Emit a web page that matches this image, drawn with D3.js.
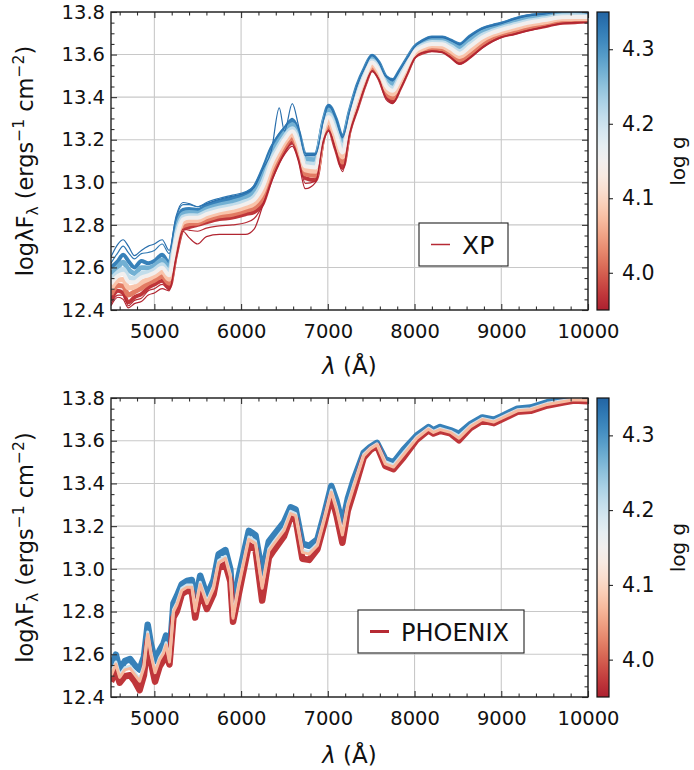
<!DOCTYPE html>
<html>
<head>
<meta charset="utf-8">
<script src="https://cdn.jsdelivr.net/npm/d3@7"></script>
<style>
    body { margin: 0; background: #fff; }
    text { font-family: "DejaVu Sans", sans-serif; fill: #111; }
</style>
</head>
<body>
<div id="chart"></div>
<script>

// wavelength grid of the XP spectra (top panel)
var wlXP = [4500, 4580, 4640, 4700, 4770, 4850, 4930, 5000, 5090, 5170,
    5250, 5330, 5400, 5500, 5600, 5750, 5900, 6050, 6150, 6250,
    6350, 6440, 6500, 6590, 6660, 6740, 6860, 6950, 7010, 7090,
    7170, 7250, 7340, 7430, 7510, 7590, 7670, 7750, 7830, 7920,
    8000, 8100, 8200, 8320, 8420, 8520, 8640, 8780, 8900, 9000,
    9150, 9300, 9500, 9700, 9850, 10000];

// log lambda*F_lambda of the XP spectra, one array per star
var xpSpike = [12.65, 12.71, 12.73, 12.70, 12.655, 12.68, 12.70, 12.71, 12.73, 12.68,
    12.84, 12.905, 12.90, 12.885, 12.90, 12.92, 12.935, 12.95, 12.975, 13.06,
    13.15, 13.35, 13.24, 13.37, 13.27, 13.125, 13.13, 13.29, 13.36, 13.30,
    13.21, 13.33, 13.455, 13.54, 13.595, 13.56, 13.495, 13.48, 13.525, 13.585,
    13.635, 13.665, 13.68, 13.68, 13.665, 13.648, 13.685, 13.72, 13.735, 13.745,
    13.765, 13.78, 13.79, 13.80, 13.80, 13.795];
var xpHigh = [12.62, 12.67, 12.70, 12.67, 12.64, 12.665, 12.67, 12.68, 12.71, 12.665,
    12.83, 12.895, 12.895, 12.885, 12.905, 12.925, 12.94, 12.955, 12.985, 13.07,
    13.17, 13.23, 13.26, 13.30, 13.25, 13.135, 13.135, 13.295, 13.365, 13.305,
    13.215, 13.335, 13.46, 13.545, 13.60, 13.565, 13.50, 13.485, 13.53, 13.59,
    13.64, 13.67, 13.685, 13.685, 13.67, 13.65, 13.69, 13.725, 13.74, 13.75,
    13.77, 13.785, 13.795, 13.805, 13.805, 13.80];
var xp432 = [12.60, 12.63, 12.66, 12.63, 12.60, 12.63, 12.62, 12.63, 12.66, 12.62,
    12.80, 12.87, 12.875, 12.87, 12.89, 12.91, 12.925, 12.945, 12.975, 13.06,
    13.16, 13.22, 13.25, 13.29, 13.24, 13.13, 13.13, 13.29, 13.36, 13.30,
    13.21, 13.33, 13.455, 13.54, 13.595, 13.56, 13.495, 13.48, 13.525, 13.585,
    13.635, 13.665, 13.68, 13.68, 13.665, 13.648, 13.685, 13.72, 13.735, 13.745,
    13.765, 13.78, 13.79, 13.80, 13.80, 13.795];
var xp427 = [12.569, 12.602, 12.624, 12.591, 12.572, 12.599, 12.597, 12.608, 12.635, 12.597,
    12.772, 12.852, 12.858, 12.855, 12.874, 12.893, 12.907, 12.926, 12.952, 13.028,
    13.132, 13.196, 13.23, 13.27, 13.218, 13.108, 13.106, 13.274, 13.338, 13.272,
    13.182, 13.312, 13.434, 13.524, 13.582, 13.546, 13.478, 13.46, 13.508, 13.572,
    13.626, 13.654, 13.668, 13.667, 13.65, 13.63, 13.666, 13.704, 13.722, 13.733,
    13.752, 13.767, 13.779, 13.79, 13.79, 13.787];
var xp421 = [12.541, 12.577, 12.592, 12.556, 12.547, 12.571, 12.576, 12.588, 12.613, 12.576,
    12.747, 12.836, 12.843, 12.842, 12.86, 12.878, 12.89, 12.909, 12.931, 12.999,
    13.107, 13.174, 13.212, 13.252, 13.198, 13.088, 13.084, 13.26, 13.318, 13.247,
    13.157, 13.296, 13.415, 13.51, 13.57, 13.533, 13.463, 13.442, 13.493, 13.56,
    13.618, 13.644, 13.657, 13.655, 13.637, 13.615, 13.649, 13.69, 13.71, 13.723,
    13.74, 13.756, 13.768, 13.781, 13.782, 13.78];
var xp415 = [12.523, 12.56, 12.57, 12.533, 12.53, 12.553, 12.563, 12.575, 12.599, 12.563,
    12.73, 12.825, 12.833, 12.833, 12.85, 12.868, 12.88, 12.898, 12.918, 12.98,
    13.09, 13.16, 13.20, 13.24, 13.185, 13.075, 13.07, 13.25, 13.305, 13.23,
    13.14, 13.285, 13.403, 13.50, 13.563, 13.525, 13.453, 13.43, 13.483, 13.553,
    13.613, 13.638, 13.65, 13.648, 13.628, 13.604, 13.638, 13.68, 13.703, 13.716,
    13.733, 13.749, 13.762, 13.775, 13.776, 13.776];
var xp408 = [12.499, 12.539, 12.543, 12.504, 12.509, 12.529, 12.545, 12.559, 12.58, 12.545,
    12.709, 12.812, 12.82, 12.821, 12.838, 12.856, 12.866, 12.883, 12.90, 12.956,
    13.069, 13.142, 13.185, 13.225, 13.169, 13.059, 13.052, 13.238, 13.289, 13.209,
    13.119, 13.272, 13.387, 13.488, 13.553, 13.515, 13.44, 13.415, 13.47, 13.543,
    13.606, 13.629, 13.641, 13.638, 13.616, 13.591, 13.623, 13.668, 13.693, 13.707,
    13.723, 13.739, 13.753, 13.768, 13.769, 13.77];
var xp402 = [12.473, 12.515, 12.512, 12.471, 12.485, 12.503, 12.526, 12.54, 12.559, 12.526,
    12.685, 12.796, 12.805, 12.809, 12.824, 12.842, 12.85, 12.867, 12.881, 12.929,
    13.045, 13.122, 13.168, 13.208, 13.15, 13.04, 13.032, 13.224, 13.27, 13.185,
    13.095, 13.256, 13.369, 13.474, 13.542, 13.503, 13.425, 13.398, 13.455, 13.532,
    13.598, 13.62, 13.631, 13.627, 13.604, 13.576, 13.607, 13.654, 13.682, 13.697,
    13.712, 13.728, 13.743, 13.759, 13.761, 13.763];
var xp397 = [12.445, 12.49, 12.48, 12.436, 12.46, 12.475, 12.505, 12.52, 12.537, 12.505,
    12.66, 12.78, 12.79, 12.80, 12.812, 12.827, 12.834, 12.85, 12.86, 12.90,
    13.02, 13.10, 13.15, 13.19, 13.13, 13.02, 13.01, 13.21, 13.25, 13.16,
    13.07, 13.24, 13.35, 13.46, 13.53, 13.49, 13.41, 13.38, 13.44, 13.52,
    13.59, 13.61, 13.62, 13.615, 13.59, 13.56, 13.59, 13.64, 13.67, 13.686,
    13.70, 13.717, 13.733, 13.75, 13.752, 13.756];
var xpRed2 = [12.43, 12.47, 12.47, 12.42, 12.445, 12.455, 12.49, 12.50, 12.52, 12.495,
    12.65, 12.78, 12.775, 12.77, 12.785, 12.795, 12.80, 12.81, 12.83, 12.895,
    13.01, 13.095, 13.14, 13.18, 13.115, 12.995, 13.005, 13.20, 13.245, 13.155,
    13.06, 13.23, 13.345, 13.455, 13.525, 13.485, 13.40, 13.375, 13.435, 13.515,
    13.585, 13.61, 13.618, 13.612, 13.588, 13.558, 13.588, 13.635, 13.665, 13.683,
    13.698, 13.714, 13.731, 13.748, 13.751, 13.753];
var xpLow = [12.42, 12.46, 12.45, 12.41, 12.43, 12.44, 12.47, 12.48, 12.50, 12.49,
    12.64, 12.77, 12.74, 12.71, 12.745, 12.755, 12.755, 12.755, 12.78, 12.89,
    13.00, 13.09, 13.13, 13.17, 13.10, 12.97, 13.00, 13.19, 13.24, 13.15,
    13.05, 13.22, 13.34, 13.45, 13.52, 13.48, 13.39, 13.37, 13.43, 13.51,
    13.58, 13.61, 13.615, 13.61, 13.585, 13.555, 13.585, 13.63, 13.66, 13.68,
    13.695, 13.71, 13.73, 13.745, 13.75, 13.75];

// wavelength grid of the PHOENIX spectra (bottom panel)
var wlPH = [4500, 4556, 4600, 4660, 4720, 4776, 4830, 4880, 4923, 4960,
    5008, 5060, 5104, 5135, 5174, 5220, 5260, 5316, 5375, 5432,
    5471, 5529, 5606, 5683, 5741, 5819, 5876, 5907, 5973, 6089,
    6166, 6243, 6320, 6378, 6494, 6571, 6629, 6707, 6784, 6880,
    6960, 7040, 7100, 7168, 7230, 7299, 7414, 7490, 7567, 7663,
    7758, 7873, 8026, 8160, 8218, 8295, 8415, 8512, 8646, 8781,
    8915, 9000, 9185, 9338, 9530, 9723, 9838, 10000];

var ph432 = [12.538, 12.598, 12.528, 12.568, 12.578, 12.548, 12.528, 12.588, 12.738, 12.648,
    12.568, 12.618, 12.648, 12.688, 12.588, 12.838, 12.873, 12.928, 12.943, 12.948,
    12.843, 12.968, 12.873, 12.948, 13.068, 13.088, 12.998, 12.798, 12.968, 13.178,
    13.158, 12.978, 13.128, 13.158, 13.218, 13.288, 13.278, 13.118, 13.108, 13.138,
    13.258, 13.388, 13.318, 13.208, 13.328, 13.418, 13.544, 13.571, 13.590, 13.513,
    13.498, 13.558, 13.625, 13.664, 13.649, 13.664, 13.649, 13.633, 13.678, 13.709,
    13.698, 13.714, 13.750, 13.755, 13.780, 13.792, 13.800, 13.800];
var ph420 = [12.509, 12.564, 12.502, 12.537, 12.544, 12.514, 12.484, 12.549, 12.704, 12.609,
    12.524, 12.584, 12.614, 12.654, 12.574, 12.809, 12.842, 12.909, 12.924, 12.924,
    12.812, 12.937, 12.847, 12.919, 13.039, 13.059, 12.974, 12.779, 12.929, 13.149,
    13.129, 12.919, 13.094, 13.127, 13.189, 13.269, 13.259, 13.087, 13.079, 13.119,
    13.239, 13.369, 13.289, 13.169, 13.304, 13.394, 13.536, 13.566, 13.586, 13.502,
    13.487, 13.544, 13.618, 13.659, 13.644, 13.658, 13.644, 13.622, 13.672, 13.704,
    13.693, 13.709, 13.745, 13.750, 13.775, 13.788, 13.796, 13.795];
var ph407 = [12.499, 12.554, 12.492, 12.527, 12.534, 12.504, 12.474, 12.539, 12.694, 12.599,
    12.514, 12.574, 12.604, 12.644, 12.564, 12.799, 12.832, 12.899, 12.914, 12.914,
    12.802, 12.927, 12.837, 12.909, 13.029, 13.049, 12.964, 12.769, 12.919, 13.139,
    13.119, 12.909, 13.084, 13.117, 13.179, 13.259, 13.249, 13.077, 13.069, 13.109,
    13.229, 13.359, 13.279, 13.159, 13.294, 13.384, 13.529, 13.561, 13.581, 13.492,
    13.477, 13.534, 13.611, 13.654, 13.639, 13.652, 13.639, 13.612, 13.666, 13.699,
    13.688, 13.704, 13.740, 13.745, 13.770, 13.784, 13.792, 13.790];
var ph397 = [12.472, 12.522, 12.467, 12.497, 12.502, 12.472, 12.432, 12.502, 12.662, 12.562,
    12.472, 12.542, 12.572, 12.612, 12.552, 12.772, 12.802, 12.882, 12.897, 12.892,
    12.772, 12.897, 12.812, 12.882, 13.002, 13.022, 12.942, 12.752, 12.882, 13.112,
    13.092, 12.852, 13.052, 13.087, 13.152, 13.242, 13.232, 13.047, 13.042, 13.092,
    13.212, 13.342, 13.252, 13.122, 13.272, 13.362, 13.521, 13.556, 13.576, 13.482,
    13.467, 13.522, 13.605, 13.649, 13.634, 13.646, 13.634, 13.602, 13.660, 13.694,
    13.682, 13.699, 13.735, 13.740, 13.765, 13.780, 13.788, 13.785];

// log g of each star
var xpLogg = [4.34, 4.33, 4.32, 4.27, 4.21, 4.15, 4.08, 4.02, 3.97, 3.96, 3.955];
var phLogg = [4.32, 4.20, 4.07, 3.97];

var xTicks = [5000, 6000, 7000, 8000, 9000, 10000];
var yTicks = [12.4, 12.6, 12.8, 13.0, 13.2, 13.4, 13.6, 13.8];
var cbTicks = [4.0, 4.1, 4.2, 4.3];

var plotLeft = 111, plotRight = 588;
var cbLeft = 597, cbWidth = 12;

var svg = d3.select("#chart").append("svg")
    .attr("width", 694)
    .attr("height", 770);

var color = d3.scaleSequential(function (t) { return d3.interpolateRdBu(0.1 + 0.8 * t); })
    .domain([3.95, 4.35]);

// colorbar gradient (shared by both panels)
var grad = svg.append("defs").append("linearGradient")
    .attr("id", "cbgrad")
    .attr("x1", 0).attr("y1", 1).attr("x2", 0).attr("y2", 0);
d3.range(0, 1.0001, 0.05).forEach(function (t) {
    grad.append("stop")
        .attr("offset", t)
        .attr("stop-color", color(3.95 + 0.4 * t));
});

var panels = [
    {
        id: "xp", top: 12, bottom: 310, wl: wlXP, curve: d3.curveMonotoneX,
        // draw order: band from outside in, outliers last
        series: [
            {flux: xp432, logg: xpLogg[2], w: 4},
            {flux: xp397, logg: xpLogg[8], w: 4},
            {flux: xp427, logg: xpLogg[3], w: 5},
            {flux: xp402, logg: xpLogg[7], w: 5},
            {flux: xp421, logg: xpLogg[4], w: 5},
            {flux: xp408, logg: xpLogg[6], w: 5},
            {flux: xp415, logg: xpLogg[5], w: 4},
            {flux: xpSpike, logg: xpLogg[0], w: 1.2},
            {flux: xpHigh, logg: xpLogg[1], w: 1.2},
            {flux: xpRed2, logg: xpLogg[9], w: 1.2},
            {flux: xpLow, logg: xpLogg[10], w: 1.2}
        ],
        legend: "XP", legendBox: [419, 223, 89, 43], legendLineW: 1.5, legendFont: 25,
        labelY: 374
    },
    {
        id: "ph", top: 398, bottom: 697, wl: wlPH, curve: d3.curveLinear,
        series: [
            {flux: ph432, logg: phLogg[0], w: 6.5},
            {flux: ph397, logg: phLogg[3], w: 6.5},
            {flux: ph420, logg: phLogg[1], w: 3},
            {flux: ph407, logg: phLogg[2], w: 3}
        ],
        legend: "PHOENIX", legendBox: [358, 610, 166, 43], legendLineW: 3, legendFont: 24,
        labelY: 763
    }
];

panels.forEach(drawPanel);

function drawPanel(p) {
    var x = d3.scaleLinear().domain([4500, 10000]).range([plotLeft, plotRight]);
    var y = d3.scaleLinear().domain([12.4, 13.8]).range([p.bottom, p.top]);
    var g = svg.append("g");

    // grid
    g.append("g").selectAll("line").data(xTicks).enter().append("line")
        .attr("x1", function (d) { return x(d); })
        .attr("x2", function (d) { return x(d); })
        .attr("y1", p.top).attr("y2", p.bottom)
        .attr("stroke", "#c8c8c8").attr("stroke-width", 1.1);
    g.append("g").selectAll("line").data(yTicks).enter().append("line")
        .attr("y1", function (d) { return y(d); })
        .attr("y2", function (d) { return y(d); })
        .attr("x1", plotLeft).attr("x2", plotRight)
        .attr("stroke", "#c8c8c8").attr("stroke-width", 1.1);

    // spectra
    svg.append("clipPath").attr("id", "clip-" + p.id)
        .append("rect")
        .attr("x", plotLeft).attr("y", p.top)
        .attr("width", plotRight - plotLeft).attr("height", p.bottom - p.top);

    var line = d3.line()
        .x(function (d, i) { return x(p.wl[i]); })
        .y(function (d) { return y(d); })
        .curve(p.curve);

    g.append("g").attr("clip-path", "url(#clip-" + p.id + ")")
        .selectAll("path").data(p.series).enter().append("path")
        .attr("d", function (d) { return line(d.flux); })
        .attr("fill", "none")
        .attr("stroke", function (d) { return color(d.logg); })
        .attr("stroke-width", function (d) { return d.w; })
        .attr("stroke-linejoin", "round");

    // axes, ticks pointing inwards on all four sides
    var xMinor = d3.range(4600, 10000, 200).filter(function (v) { return v % 1000 !== 0; });
    var yMinor = d3.range(12.45, 13.8, 0.05).filter(function (v) {
        return Math.abs(v * 5 - Math.round(v * 5)) > 1e-6;
    });

    function addAxis(axis, tr, labels) {
        var a = g.append("g").attr("transform", tr).call(axis);
        a.select(".domain").remove();
        a.selectAll(".tick line").attr("stroke", "#333").attr("stroke-width", 1.1);
        if (!labels) a.selectAll(".tick text").remove();
        else a.selectAll(".tick text").attr("font-size", 19.5).attr("fill", "#111")
            .attr("font-family", "DejaVu Sans, sans-serif");
        return a;
    }

    addAxis(d3.axisBottom(x).tickValues(xTicks).tickSize(-6).tickPadding(14).tickFormat(d3.format("d")),
        "translate(0," + p.bottom + ")", true);
    addAxis(d3.axisBottom(x).tickValues(xMinor).tickSize(-3.5), "translate(0," + p.bottom + ")", false);
    addAxis(d3.axisTop(x).tickValues(xTicks).tickSize(-6), "translate(0," + p.top + ")", false);
    addAxis(d3.axisTop(x).tickValues(xMinor).tickSize(-3.5), "translate(0," + p.top + ")", false);
    addAxis(d3.axisLeft(y).tickValues(yTicks).tickSize(-6).tickPadding(6).tickFormat(d3.format(".1f")),
        "translate(" + plotLeft + ",0)", true);
    addAxis(d3.axisLeft(y).tickValues(yMinor).tickSize(-3.5), "translate(" + plotLeft + ",0)", false);
    addAxis(d3.axisRight(y).tickValues(yTicks).tickSize(-6), "translate(" + plotRight + ",0)", false);
    addAxis(d3.axisRight(y).tickValues(yMinor).tickSize(-3.5), "translate(" + plotRight + ",0)", false);

    // frame
    g.append("rect")
        .attr("x", plotLeft).attr("y", p.top)
        .attr("width", plotRight - plotLeft).attr("height", p.bottom - p.top)
        .attr("fill", "none").attr("stroke", "#222").attr("stroke-width", 1.4);

    // axis labels
    var xl = g.append("text")
        .attr("x", (plotLeft + plotRight) / 2).attr("y", p.labelY)
        .attr("text-anchor", "middle").attr("font-size", 23);
    xl.append("tspan").attr("font-style", "italic").text("λ");
    xl.append("tspan").text(" (Å)");

    var yl = g.append("text")
        .attr("transform", "translate(33," + (p.top + p.bottom) / 2 + ") rotate(-90)")
        .attr("text-anchor", "middle").attr("font-size", 22.5);
    yl.append("tspan").text("logλF");
    yl.append("tspan").attr("font-size", 15.5).attr("dy", 5).text("λ");
    yl.append("tspan").attr("dy", -5).text(" (ergs");
    yl.append("tspan").attr("font-size", 15.5).attr("dy", -9).text("−1");
    yl.append("tspan").attr("dy", 9).text(" cm");
    yl.append("tspan").attr("font-size", 15.5).attr("dy", -9).text("−2");
    yl.append("tspan").attr("dy", 9).text(")");

    // legend
    var lb = p.legendBox;
    g.append("rect")
        .attr("x", lb[0]).attr("y", lb[1]).attr("width", lb[2]).attr("height", lb[3])
        .attr("fill", "#fff").attr("stroke", "#222").attr("stroke-width", 1.1);
    g.append("line")
        .attr("x1", lb[0] + 12).attr("x2", lb[0] + 31)
        .attr("y1", lb[1] + 21.5).attr("y2", lb[1] + 21.5)
        .attr("stroke", color(3.96)).attr("stroke-width", p.legendLineW);
    g.append("text")
        .attr("x", lb[0] + 43).attr("y", lb[1] + 31)
        .attr("font-size", p.legendFont)
        .text(p.legend);

    // colorbar
    var cy = d3.scaleLinear().domain([3.95, 4.35]).range([p.bottom, p.top]);
    g.append("rect")
        .attr("x", cbLeft).attr("y", p.top).attr("width", cbWidth).attr("height", p.bottom - p.top)
        .attr("fill", "url(#cbgrad)").attr("stroke", "#111").attr("stroke-width", 1.2);
    var cb = g.append("g").attr("transform", "translate(" + (cbLeft + cbWidth) + ",0)")
        .call(d3.axisRight(cy).tickValues(cbTicks).tickSize(4).tickPadding(9).tickFormat(d3.format(".1f")));
    cb.select(".domain").remove();
    cb.selectAll(".tick line").attr("stroke", "#111");
    cb.selectAll(".tick text").attr("font-size", 20.5).attr("fill", "#111")
        .attr("font-family", "DejaVu Sans, sans-serif");
    g.append("text")
        .attr("transform", "translate(685," + (p.top + p.bottom) / 2 + ") rotate(-90)")
        .attr("text-anchor", "middle").attr("font-size", 20)
        .text("log g");
}

</script>
</body>
</html>
